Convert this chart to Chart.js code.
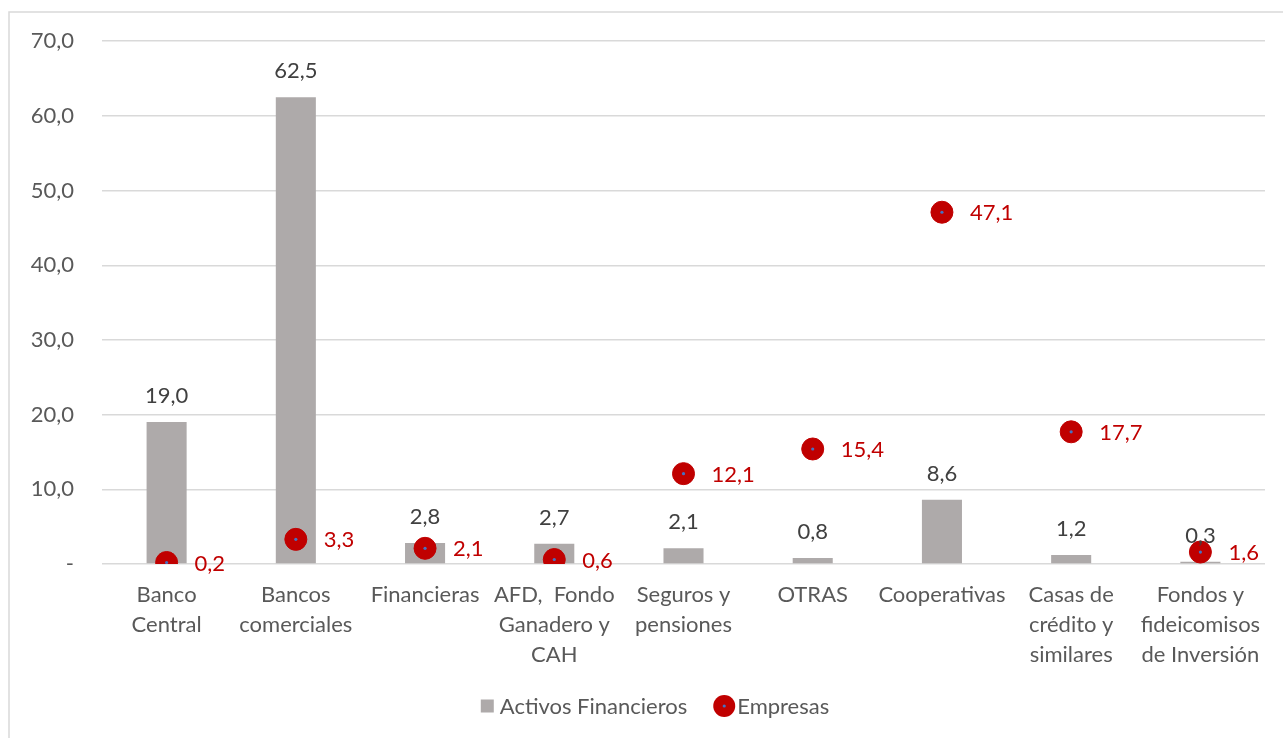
<!DOCTYPE html>
<html>
<head>
<meta charset="utf-8">
<script src="https://cdn.jsdelivr.net/npm/chart.js@4.4.1/dist/chart.umd.min.js"></script>
<style>
  html, body { margin: 0; padding: 0; background: #fff; }
  #wrap { width: 1283px; height: 738px; position: relative; }
</style>
</head>
<body>
<div id="wrap"><canvas id="chart" width="1283" height="738"></canvas></div>
<script>
// ---------- DATA ----------
const categories = [
  ["Banco", "Central"],
  ["Bancos", "comerciales"],
  "Financieras",
  ["AFD,  Fondo", "Ganadero y", "CAH"],
  ["Seguros y", "pensiones"],
  "OTRAS",
  "Cooperativas",
  ["Casas de", "crédito y", "similares"],
  ["Fondos y", "fideicomisos", "de Inversión"]
];
const activosFinancieros = [19.0, 62.5, 2.8, 2.7, 2.1, 0.8, 8.6, 1.2, 0.3];
const empresas = [0.2, 3.3, 2.1, 0.6, 12.1, 15.4, 47.1, 17.7, 1.6];
const yTicks = [0, 10, 20, 30, 40, 50, 60, 70];

const FONT = "Lato, 'Open Sans', sans-serif";
const RED = "#c00000";
const GREY = "#aeaaaa";
const fmt = v => v.toFixed(1).replace(".", ",");

// ---------- PLUGINS ----------
const frame = {
  id: "frame",
  beforeDraw(chart) {
    const c = chart.ctx;
    c.save();
    c.strokeStyle = "#d9d9d9";
    c.lineWidth = 1.5;
    c.strokeRect(9, 12, 1290, 740);
    c.restore();
  }
};

function blueDot(c, x, y) {
  c.fillStyle = "#4472c4";
  c.beginPath();
  c.arc(x, y, 1.6, 0, Math.PI * 2);
  c.fill();
}

const valueLabels = {
  id: "valueLabels",
  afterDatasetsDraw(chart) {
    const c = chart.ctx;
    c.save();
    c.font = "22px " + FONT;
    c.textBaseline = "middle";
    // bar labels
    c.fillStyle = "#404040";
    c.textAlign = "center";
    chart.getDatasetMeta(0).data.forEach((el, i) => {
      c.fillText(fmt(activosFinancieros[i]), el.x, el.y - 26);
    });
    // point labels
    c.textAlign = "left";
    chart.getDatasetMeta(1).data.forEach((el, i) => {
      blueDot(c, el.x, el.y);
      c.fillStyle = RED;
      c.fillText(fmt(empresas[i]), el.x + 28, el.y + 1);
    });
    c.restore();
  }
};

// legend drawn by hand so the spacing matches the original
const bottomLegend = {
  id: "bottomLegend",
  afterDraw(chart) {
    const c = chart.ctx;
    const ds = chart.data.datasets;
    const y = 706;
    c.save();
    c.font = "22px " + FONT;
    c.textBaseline = "middle";
    c.textAlign = "left";
    const w1 = c.measureText(ds[0].label).width;
    const w2 = c.measureText(ds[1].label).width;
    const total = 13 + 6 + w1 + 26 + 22 + 2 + w2;
    let x = 655 - total / 2;
    c.fillStyle = ds[0].backgroundColor;
    c.fillRect(x, y - 6.5, 13, 13);
    x += 19;
    c.fillStyle = "#595959";
    c.fillText(ds[0].label, x, y + 1);
    x += w1 + 26;
    c.fillStyle = ds[1].pointBackgroundColor;
    c.beginPath();
    c.arc(x + 11, y, 11, 0, Math.PI * 2);
    c.fill();
    blueDot(c, x + 11, y);
    x += 24;
    c.fillStyle = "#595959";
    c.fillText(ds[1].label, x, y + 1);
    c.restore();
  }
};

// ---------- CHART ----------
new Chart(document.getElementById("chart"), {
  data: {
    labels: categories,
    datasets: [
      {
        type: "bar",
        label: "Activos Financieros",
        data: activosFinancieros,
        backgroundColor: GREY,
        barPercentage: 0.31,
        categoryPercentage: 1,
        order: 2
      },
      {
        type: "line",
        label: "Empresas",
        data: empresas,
        showLine: false,
        pointRadius: 11,
        pointHoverRadius: 11,
        pointBackgroundColor: RED,
        pointBorderColor: RED,
        backgroundColor: RED,
        borderColor: RED,
        order: 1
      }
    ]
  },
  options: {
    responsive: false,
    animation: false,
    layout: { padding: { left: 20, right: 18, top: 41, bottom: 52 } },
    plugins: {
      tooltip: { enabled: false },
      legend: { display: false }
    },
    scales: {
      x: {
        grid: { display: false, drawTicks: false },
        border: { display: false },
        ticks: {
          color: "#595959",
          padding: 16,
          maxRotation: 0,
          autoSkip: false,
          font: { family: FONT, size: 22, lineHeight: 1.36 }
        },
        afterFit(scale) { scale.height = 122; }
      },
      y: {
        min: 0,
        max: 70,
        afterBuildTicks(scale) { scale.ticks = yTicks.map(v => ({ value: v })); },
        grid: { color: "#d9d9d9", lineWidth: 1.5, drawTicks: false },
        border: { display: false },
        ticks: {
          color: "#595959",
          padding: 28,
          font: { family: FONT, size: 22 },
          callback: v => (v === 0 ? "-" : fmt(v))
        },
        afterFit(scale) { scale.width = 82; }
      }
    }
  },
  plugins: [frame, valueLabels, bottomLegend]
});
</script>
</body>
</html>
